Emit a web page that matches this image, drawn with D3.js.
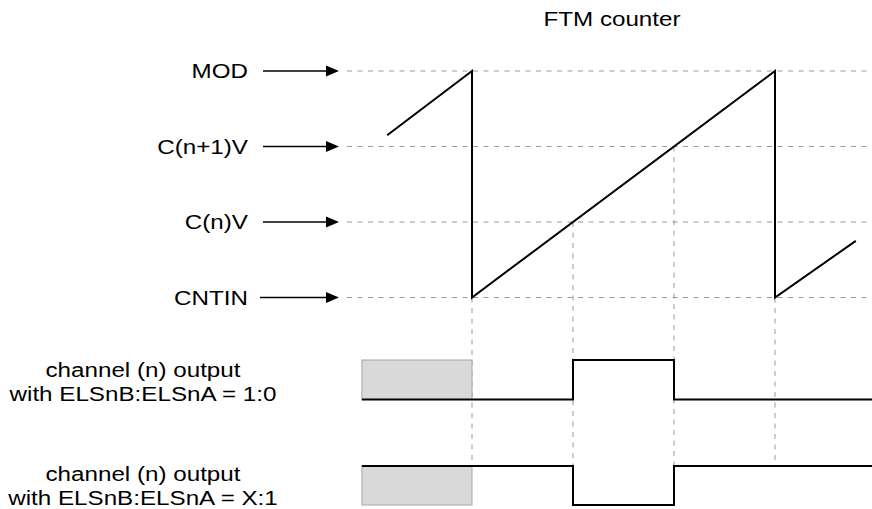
<!DOCTYPE html>
<html>
<head>
<meta charset="utf-8">
<script src="https://cdn.jsdelivr.net/npm/d3@7"></script>
<style>
  html, body { margin: 0; padding: 0; background: #fff; }
  svg { display: block; }
  text { font-family: Helvetica, "Liberation Sans", Arial, sans-serif; font-size: 20px; fill: #000; }
</style>
</head>
<body>
<div id="chart"></div>
<script>
// counter levels (bottom to top)
const levelNames = ["CNTIN", "C(n)V", "C(n+1)V", "MOD"];
const levelValues = [0, 1, 2, 3];

// FTM counter sawtooth, time in counter periods units
const counterT = [-0.84, 0, 0, 3, 3, 3.8];
const counterV = [2.15, 3, 0, 3, 0, 0.75];

// vertical guide lines: time and level they drop from
const markerT = [0, 1, 2, 3];
const markerFrom = [0, 1, 2, 0];

// channel outputs (1 = high, 0 = low)
const out1T = [-1.09, 1, 1, 2, 2, 4];
const out1V = [0, 0, 1, 1, 0, 0];
const out2T = [-1.09, 1, 1, 2, 2, 4];
const out2V = [1, 1, 0, 0, 1, 1];
const shadeT = [-1.09, 0];

const outLabels = [
  ["channel (n) output", "with ELSnB:ELSnA = 1:0"],
  ["channel (n) output", "with ELSnB:ELSnA = X:1"]
];

const width = 872, height = 509;
const sx = 1.21; // horizontal stretch of the lettering

const svg = d3.select("#chart").append("svg")
  .attr("width", width)
  .attr("height", height);

const x = d3.scaleLinear().domain([0, 3]).range([472, 775]);
const y = d3.scaleLinear().domain([0, 3]).range([297.5, 71]);
const y1 = d3.scaleLinear().domain([0, 1]).range([399.5, 360]);
const y2 = d3.scaleLinear().domain([0, 1]).range([505, 466]);

function label(txt, tx, ty, anchor) {
  svg.append("text")
    .attr("transform", "translate(" + tx + "," + ty + ") scale(" + sx + ",1)")
    .attr("text-anchor", anchor)
    .text(txt);
}

// title
label("FTM counter", 612, 26, "middle");

// horizontal dashed guides + labels + arrows
levelValues.forEach((v, i) => {
  const yy = y(v);
  svg.append("line")
    .attr("x1", 347).attr("x2", width)
    .attr("y1", yy).attr("y2", yy)
    .attr("stroke", "#9a9a9a")
    .attr("stroke-width", 1)
    .attr("stroke-dasharray", "5,5.5");
  label(levelNames[i], 248, yy + 7, "end");
  const x0 = levelNames[i] === "CNTIN" ? 260 : 263;
  svg.append("line")
    .attr("x1", x0).attr("x2", 328)
    .attr("y1", yy).attr("y2", yy)
    .attr("stroke", "#000")
    .attr("stroke-width", 1.5);
  svg.append("path")
    .attr("d", "M326," + (yy - 5.5) + "L339," + yy + "L326," + (yy + 5.5) + "Z")
    .attr("fill", "#000");
});

// vertical dashed guides
markerT.forEach((t, i) => {
  svg.append("line")
    .attr("x1", x(t)).attr("x2", x(t))
    .attr("y1", y(markerFrom[i])).attr("y2", y2(1))
    .attr("stroke", "#9a9a9a")
    .attr("stroke-width", 1)
    .attr("stroke-dasharray", "5,5.5");
});

// sawtooth
const counterLine = d3.line()
  .x((d, i) => x(counterT[i]))
  .y(d => y(d));
svg.append("path")
  .attr("d", counterLine(counterV))
  .attr("fill", "none")
  .attr("stroke", "#000")
  .attr("stroke-width", 2)
  .attr("stroke-linejoin", "miter");

// shaded "unknown" boxes
[y1, y2].forEach(ys => {
  svg.append("rect")
    .attr("x", x(shadeT[0]))
    .attr("y", ys(1))
    .attr("width", x(shadeT[1]) - x(shadeT[0]))
    .attr("height", ys(0) - ys(1))
    .attr("fill", "#d9d9d9")
    .attr("stroke", "#a6a6a6")
    .attr("stroke-width", 1);
});

// output waveforms
const wave1 = d3.line().x((d, i) => x(out1T[i])).y(d => y1(d));
const wave2 = d3.line().x((d, i) => x(out2T[i])).y(d => y2(d));
svg.append("path")
  .attr("d", wave1(out1V))
  .attr("fill", "none").attr("stroke", "#000").attr("stroke-width", 2);
svg.append("path")
  .attr("d", wave2(out2V))
  .attr("fill", "none").attr("stroke", "#000").attr("stroke-width", 2);

// output labels
label(outLabels[0][0], 143, 377, "middle");
label(outLabels[0][1], 143, 401, "middle");
label(outLabels[1][0], 143, 481, "middle");
label(outLabels[1][1], 143, 505, "middle");
</script>
</body>
</html>
